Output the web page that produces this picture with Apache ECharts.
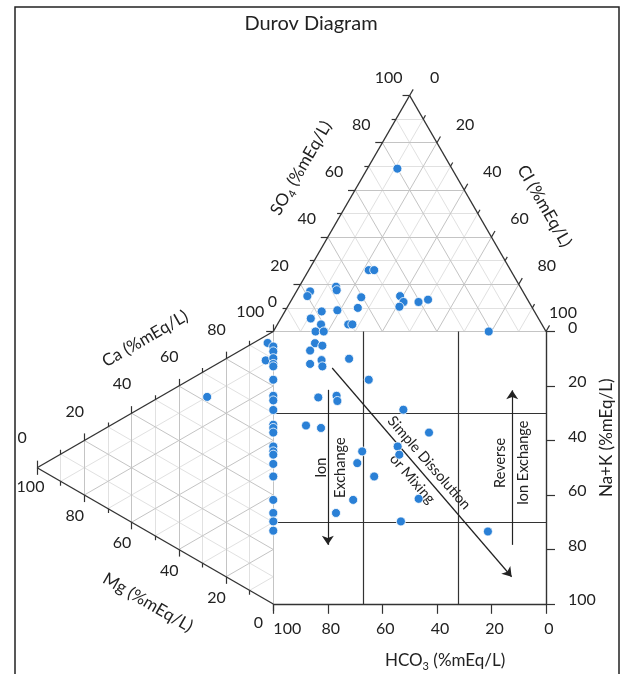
<!DOCTYPE html>
<html>
<head>
<meta charset="utf-8">
<title>Durov Diagram</title>
<script src="https://cdn.jsdelivr.net/npm/echarts/dist/echarts.min.js"></script>
<style>
  html, body { margin: 0; padding: 0; background: #fff; }
  #chart { width: 625px; height: 674px; }
</style>
</head>
<body>
<div id="chart"></div>
<script>
// ---- sample values (%meq/L) ----
// anion triangle: SO4 and Cl (HCO3 is the remainder)
const anionSO4 = [69, 26, 26, 17, 15, 19, 17.5, 14.5, 15, 12.5, 10.5, 12.5, 13.5, 8.5, 5.5, 9, 10, 3, 0, 0, 3, 3, 0];
const anionCl  = [11, 22, 24, 5, 5, 13.5, 14.5, 25, 39, 41.5, 41, 47, 50, 13.5, 11, 19, 26, 16, 15.5, 18.5, 26, 27.5, 79];

// cation triangle: Mg and Na+K (Ca is the remainder)
const cationMg = [2.4, 3.2, 28, 0, 0, 0, 0, 0, 0, 0, 0, 0, 0, 0, 0, 0, 0, 0, 0, 0, 0, 0, 0, 0];
const cationNa = [3, 9, 10, 5.5, 7.3, 9.8, 11.9, 12.8, 17.7, 23.6, 25.3, 28.8, 34.2, 35.4, 37.1, 42.2, 44, 45.2, 48.6, 53.2, 61.8, 66.6, 69.7, 73.1];

// central square: HCO3 and Na+K
const squareHCO3 = [84.7, 82, 86.5, 82.3, 82, 86.5, 72.2, 65, 83.5, 76.8, 76.5, 52.3, 88, 82.5, 42.9, 67.4, 54.4, 53.8, 69.2, 63, 70.7, 46.7, 77, 53.2, 21.3];
const squareNa   = [4.3, 5.2, 7, 10.5, 12.8, 11.9, 10, 17.7, 24.2, 23.6, 25.5, 28.7, 34.5, 35.4, 37.1, 44, 42.2, 45.2, 48.3, 53.2, 61.8, 61.4, 66.6, 69.7, 73.4];

// axis tick labels
const ternaryTicks = [0, 20, 40, 60, 80, 100];
// field boundaries inside the square
const hco3Dividers = [67, 32];
const naDividers = [30, 70];

// ---- geometry: one cartesian plane, square spans 0..100 both ways ----
const H = Math.sqrt(3) / 2;
const anionXY  = (so4, cl) => [cl + so4 / 2, -H * so4];   // apex = SO4, lower right = Cl, lower left = HCO3
const cationXY = (mg, na) => [-H * mg, na + mg / 2];      // left = Mg, upper right = Ca, lower right = Na+K
const squareXY = (hco3, na) => [100 - hco3, na];
const seg = (a, b) => ({ coords: [a, b] });

// triangle grids
const gridMajor = [], gridMinor = [];
for (let k = 10; k <= 90; k += 10) {
  const g = k % 20 === 0 ? gridMajor : gridMinor;
  g.push(seg(anionXY(k, 0), anionXY(k, 100 - k)));
  g.push(seg(anionXY(0, k), anionXY(100 - k, k)));
  g.push(seg(anionXY(0, 100 - k), anionXY(100 - k, 0)));
  g.push(seg(cationXY(k, 0), cationXY(k, 100 - k)));
  g.push(seg(cationXY(0, k), cationXY(100 - k, k)));
  g.push(seg(cationXY(0, 100 - k), cationXY(100 - k, 0)));
}
// sides shared with the square
gridMajor.push(seg(anionXY(0, 0), anionXY(0, 100)));
gridMajor.push(seg(cationXY(0, 0), cationXY(0, 100)));

// outer sides
const frame = [
  seg(anionXY(0, 0), anionXY(100, 0)),
  seg(anionXY(100, 0), anionXY(0, 100)),
  seg(cationXY(100, 0), cationXY(0, 0)),
  seg(cationXY(100, 0), cationXY(0, 100)),
  seg(squareXY(0, 0), squareXY(0, 100)),
  seg(squareXY(100, 100), squareXY(0, 100))
];

// dividing lines of the square
const dividers = [];
hco3Dividers.forEach(h => dividers.push(seg(squareXY(h, 0), squareXY(h, 100))));
naDividers.forEach(n => dividers.push(seg(squareXY(100, n), squareXY(0, n))));

// tick marks
const ticks = [];
for (let k = 0; k <= 100; k += 10) {
  const len = k % 20 === 0 ? 2.6 : 1.6;
  const a = anionXY(k, 0);        ticks.push(seg(a, [a[0] - len, a[1]]));
  const b = anionXY(100 - k, k);  ticks.push(seg(b, [b[0] + 0.5 * len, b[1] - H * len]));
  const c = cationXY(100 - k, 0); ticks.push(seg(c, [c[0], c[1] - len]));
  const m = cationXY(k, 100 - k); ticks.push(seg(m, [m[0], m[1] + len]));
}
ternaryTicks.forEach(k => {
  const h = squareXY(k, 100); ticks.push(seg(h, [h[0], h[1] + 3.6]));
  const n = squareXY(0, k);   ticks.push(seg(n, [n[0] + 3.3, n[1]]));
});

// process arrows
const arrows = [
  seg(squareXY(80, 21.4), squareXY(80, 78.3)),
  seg(squareXY(12.4, 78.3), squareXY(12.4, 21.6)),
  seg(squareXY(78.4, 13.4), squareXY(12.6, 90))
];

// ---- text ----
const FONT = 'Lato, "Open Sans", sans-serif';
const INK = '#222';
const texts = [];
function addText(pos, text, o) { texts.push(Object.assign({ pos, text, dx: 0, dy: 0, rot: 0, size: 16, align: 'center', color: INK }, o || {})); }

ternaryTicks.forEach(k => {
  addText(anionXY(k, 0), String(k), k === 0 ? { dx: -1, dy: -30 } : { dx: -21, dy: -18 });
  addText(anionXY(100 - k, k), String(k), k === 100 ? { dx: 17, dy: -19 } : k === 0 ? { dx: 25, dy: -18 } : { dx: 28, dy: -18 });
  addText(cationXY(100 - k, 0), String(k), k === 100 ? { dx: -23, dy: -20 } : k === 0 ? { dx: -15, dy: -30 } : { dx: -9.5, dy: -29 });
  addText(cationXY(k, 100 - k), String(k), k === 100 ? { dx: -6.6, dy: 19 } : k === 0 ? { dx: -15, dy: 19 } : { dx: -9.5, dy: 21 });
  addText(squareXY(k, 100), String(k), k === 100 ? { dx: 14, dy: 25 } : { dx: 3, dy: 25 });
  addText(squareXY(0, k), String(k), { dx: 22, dy: -4, align: 'left' });
});

const sub = { a: { fontSize: 17, lineHeight: 22, fontFamily: FONT, color: INK }, b: { fontSize: 11, lineHeight: 22, fontFamily: FONT, color: INK, verticalAlign: 'bottom' } };
addText(anionXY(57, 0), '{a|SO}{b|4}{a| (%mEq/L)}', { dx: -50, dy: -29, rot: 60, rich: sub });
addText(anionXY(40, 60), 'Cl (%mEq/L)', { dx: 53, dy: -31, rot: -60, size: 17 });
addText(cationXY(42, 0), 'Ca (%mEq/L)', { dx: -29, dy: -50, rot: 30, size: 17 });
addText(cationXY(40, 60), 'Mg (%mEq/L)', { dx: -31, dy: 53, rot: -30, size: 17 });
addText(squareXY(37, 100), '{a|HCO}{b|3}{a| (%mEq/L)}', { dy: 57, rich: sub });
addText(squareXY(0, 39), 'Na+K (%mEq/L)', { dx: 61, rot: 90, size: 17 });

addText(squareXY(82.3, 50), 'Ion', { rot: 90, size: 14.5 });
addText(squareXY(75.5, 50), 'Exchange', { rot: 90, size: 14.5 });
addText(squareXY(16.6, 48.2), 'Reverse', { rot: 90, size: 14.5 });
addText(squareXY(8.3, 48.2), 'Ion Exchange', { rot: 90, size: 14.5 });
addText(squareXY(42.9, 48.2), 'Simple Dissolution', { rot: -49, size: 14.5 });
addText(squareXY(49, 54.1), 'or Mixing', { rot: -49, size: 14.5 });

// ---- points ----
const points = [];
anionSO4.forEach((s, i) => points.push(anionXY(s, anionCl[i])));
cationMg.forEach((m, i) => points.push(cationXY(m, cationNa[i])));
squareHCO3.forEach((h, i) => points.push(squareXY(h, squareNa[i])));

function lineSeries(data, color, width, z, extra) {
  return Object.assign({
    type: 'lines', coordinateSystem: 'cartesian2d', data, silent: true, clip: false,
    lineStyle: { color, width, opacity: 1, curveness: 0 }, symbol: 'none', z, animation: false
  }, extra || {});
}

const chart = echarts.init(document.getElementById('chart'), null, { renderer: 'canvas' });
chart.setOption({
  animation: false,
  backgroundColor: '#fff',
  title: {
    text: 'Durov Diagram', left: 306, top: 9, textAlign: 'center',
    textStyle: { fontFamily: FONT, fontSize: 20, fontWeight: 'normal', color: INK }
  },
  graphic: [{
    type: 'rect', shape: { x: 15, y: 7, width: 604, height: 700 },
    style: { fill: 'none', stroke: '#222', lineWidth: 1.5 }, silent: true, z: 0
  }],
  grid: { left: 37.1, right: 79, top: 95.5, bottom: 70 },
  xAxis: { type: 'value', min: -100 * H, max: 100, show: false },
  yAxis: { type: 'value', min: -100 * H, max: 100, inverse: true, show: false },
  series: [
    lineSeries(gridMinor, '#e1e1e1', 1, 1),
    lineSeries(gridMajor, '#c4c4c4', 1, 2),
    lineSeries(frame, '#333', 1.4, 3),
    lineSeries(ticks, '#333', 1.2, 3),
    lineSeries(dividers, '#333', 1.2, 3),
    lineSeries(arrows, '#222', 1.2, 3, { symbol: ['none', 'arrow'], symbolSize: 9 }),
    {
      type: 'custom', coordinateSystem: 'cartesian2d', silent: true, z: 4,
      data: texts.map(t => t.pos),
      renderItem: function (params, api) {
        const t = texts[params.dataIndex];
        const p = api.coord(t.pos);
        return {
          type: 'text', x: p[0] + t.dx, y: p[1] + t.dy, rotation: t.rot * Math.PI / 180,
          style: {
            text: t.text, fill: t.color, fontFamily: FONT, fontSize: t.size,
            align: t.align, verticalAlign: 'middle', rich: t.rich
          }
        };
      }
    },
    {
      type: 'scatter', data: points, symbolSize: 9, z: 5,
      itemStyle: { color: '#2a80d6', borderColor: '#fff', borderWidth: 0.8, opacity: 1 }
    }
  ]
});
</script>
</body>
</html>
